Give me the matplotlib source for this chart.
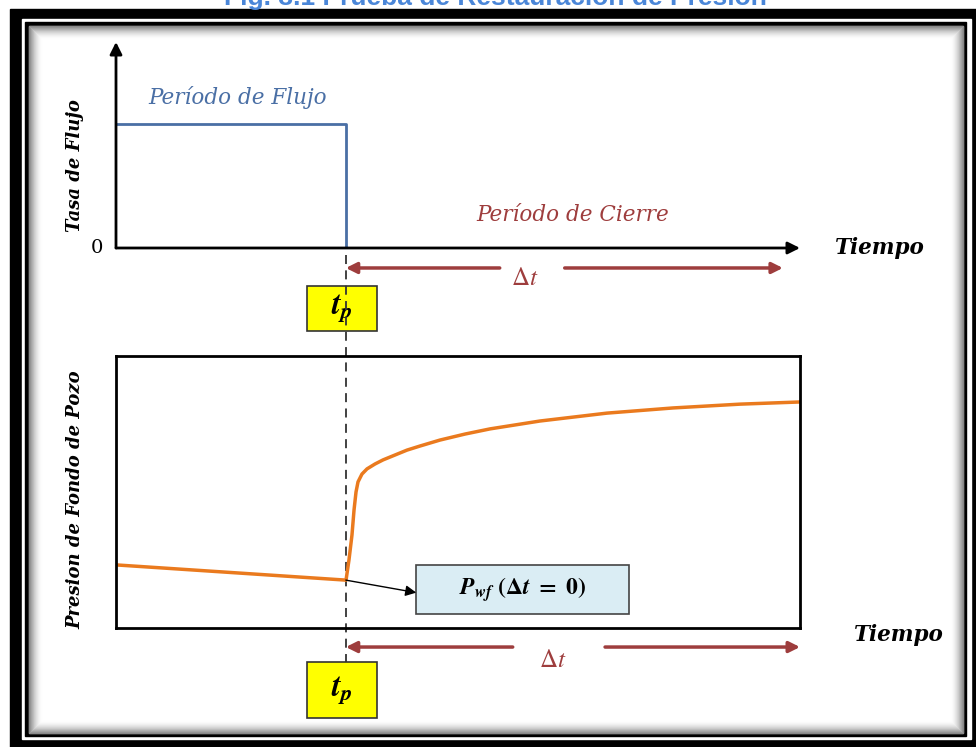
import numpy as np
import matplotlib.pyplot as plt
from matplotlib.patches import Rectangle

plt.rcParams['mathtext.fontset'] = 'stix'

# time axis (arbitrary units), flow rate and bottom-hole pressure
tp = 3.36
t_flow = [0, tp, tp]
q_flow = [0.6, 0.6, 0.0]

t_press = [0.0, 3.363, 3.406, 3.450, 3.480, 3.509, 3.538, 3.596, 3.670, 3.787, 3.904,
           4.079, 4.254, 4.444, 4.737, 5.102, 5.468, 6.199, 7.178, 8.143, 9.123, 10.0]
p_press = [23.2, 17.6, 25.0, 34.2, 43.4, 50.0, 53.7, 56.6, 58.5, 60.3, 61.8,
           63.6, 65.4, 66.9, 69.1, 71.3, 73.2, 76.1, 79.0, 80.9, 82.3, 83.1]
p_wf = p_press[1]

blue = '#4a6fa5'
red = '#9e3d3d'
orange = '#ea7a1e'
serif = 'DejaVu Serif'

W, H = 976, 747
fig = plt.figure(figsize=(W / 100, H / 100), dpi=100)

# decorative frame, pixel coords
deco = fig.add_axes([0, 0, 1, 1])
deco.set_xlim(0, W)
deco.set_ylim(H, 0)
deco.axis('off')
deco.add_patch(Rectangle((10, 9), 970, 745, color='black'))
deco.add_patch(Rectangle((22, 19), 949, 720, color='white'))
deco.add_patch(Rectangle((25, 22), 941, 714, color='black'))
deco.add_patch(Rectangle((29, 26), 934, 707, color='white'))
for i in range(14):
    a = 0.45 * (1 - i / 14) ** 2
    deco.add_patch(Rectangle((29 + i, 26 + i), 934 - 2 * i, 707 - 2 * i,
                             fill=False, edgecolor='black', lw=0.8, alpha=a))
fig.text(495 / W, 1 - 5 / H, 'Fig. 3.1 Prueba de Restauración de Presión',
         ha='center', va='baseline', fontsize=19, fontweight='bold',
         color='#4a86d8', family='Liberation Sans')

# top panel: flow rate
ax1 = fig.add_axes([116 / W, 1 - 248 / H, 684 / W, 206 / H])
ax1.set_xlim(0, 10)
ax1.set_ylim(0, 1)
ax1.set_facecolor('none')
ax1.axis('off')
ax1.annotate('', xy=(1.0, 0), xytext=(0, 0), xycoords='axes fraction',
             arrowprops=dict(arrowstyle='-|>', color='black', lw=2, mutation_scale=18,
                             shrinkA=0, shrinkB=0))
ax1.annotate('', xy=(0, 1.0), xytext=(0, 0), xycoords='axes fraction',
             arrowprops=dict(arrowstyle='-|>', color='black', lw=2, mutation_scale=18,
                             shrinkA=0, shrinkB=0))
ax1.plot(t_flow, q_flow, color=blue, lw=2)
ax1.text(0.47, 0.733, 'Período de Flujo', ha='left', va='center', fontsize=15.5,
         style='italic', color=blue, family=serif)
ax1.text(6.67, 0.16, 'Período de Cierre', ha='center', va='center', fontsize=15.5,
         style='italic', color=red, family=serif)
ax1.text(-0.28, 0, '0', ha='center', va='center', fontsize=14, family=serif)
ax1.text(11.17, 0, 'Tiempo', ha='center', va='center', fontsize=15.5, family=serif,
         style='italic', fontweight='bold')
ax1.text(-0.6, 0.40, 'Tasa de Flujo', ha='center', va='center', rotation=90,
         fontsize=13, family=serif, style='italic', fontweight='bold')

arr = dict(arrowstyle='-|>', color=red, lw=2.5, mutation_scale=16, shrinkA=0, shrinkB=0)
ax1.annotate('', xy=(tp, -0.097), xytext=(5.61, -0.097), arrowprops=arr, annotation_clip=False)
ax1.annotate('', xy=(9.75, -0.097), xytext=(6.56, -0.097), arrowprops=arr, annotation_clip=False)
ax1.text(5.98, -0.146, r'$\Delta t$', ha='center', va='center', fontsize=18, color=red)

ax1.add_patch(Rectangle((2.79, -0.403), 1.03, 0.219, facecolor='#ffff00',
                        edgecolor='#333333', lw=1.2, clip_on=False, zorder=3))
ax1.text(3.30, -0.29, r'$\mathbfit{t_p}$', ha='center', va='center', fontsize=23,
         zorder=4)
ax1.plot([tp, tp], [-0.034, -2.01], color='#333333', lw=1.3, ls=(0, (5, 3.5)),
         clip_on=False, zorder=5)

# bottom panel: bottom-hole pressure
ax2 = fig.add_axes([116 / W, 1 - 628 / H, 684 / W, 272 / H])
ax2.set_xlim(0, 10)
ax2.set_ylim(0, 100)
ax2.set_facecolor('none')
ax2.set_xticks([])
ax2.set_yticks([])
for s in ax2.spines.values():
    s.set_linewidth(2)
ax2.plot(t_press, p_press, color=orange, lw=2.5, solid_capstyle='round')
ax2.text(-0.6, 47, 'Presion de Fondo de Pozo', ha='center', va='center', rotation=90,
         fontsize=13, family=serif, style='italic', fontweight='bold')
ax2.text(11.45, -2.6, 'Tiempo', ha='center', va='center', fontsize=15.5, family=serif,
         style='italic', fontweight='bold')
ax2.annotate('', xy=(tp, -7.0), xytext=(5.80, -7.0), arrowprops=arr, annotation_clip=False)
ax2.annotate('', xy=(10.0, -7.0), xytext=(7.15, -7.0), arrowprops=arr, annotation_clip=False)
ax2.text(6.39, -11.8, r'$\Delta t$', ha='center', va='center', fontsize=18, color=red)

ax2.add_patch(Rectangle((2.79, -33.1), 1.03, 20.6, facecolor='#ffff00',
                        edgecolor='#333333', lw=1.2, clip_on=False, zorder=3))
ax2.text(3.30, -22.8, r'$\mathbfit{t_p}$', ha='center', va='center', fontsize=23,
         zorder=4)

ax2.add_patch(Rectangle((4.39, 5.1), 3.11, 18.1, facecolor='#daedf4',
                        edgecolor='#444444', lw=1.2, clip_on=False, zorder=3))
ax2.text(5.94, 14.3, r'$\mathbfit{P_{wf}}\ \mathbf{(}\mathbf{\Delta}\mathbfit{t}\ \mathbf{=}\ \mathbf{0)}$',
         ha='center', va='center', fontsize=17, zorder=4)
ax2.annotate('', xy=(4.39, 13.0), xytext=(tp, p_wf),
             arrowprops=dict(arrowstyle='-|>', color='black', lw=1, mutation_scale=16,
                             shrinkA=0, shrinkB=0), zorder=4)

plt.savefig('out.png', dpi=100)
